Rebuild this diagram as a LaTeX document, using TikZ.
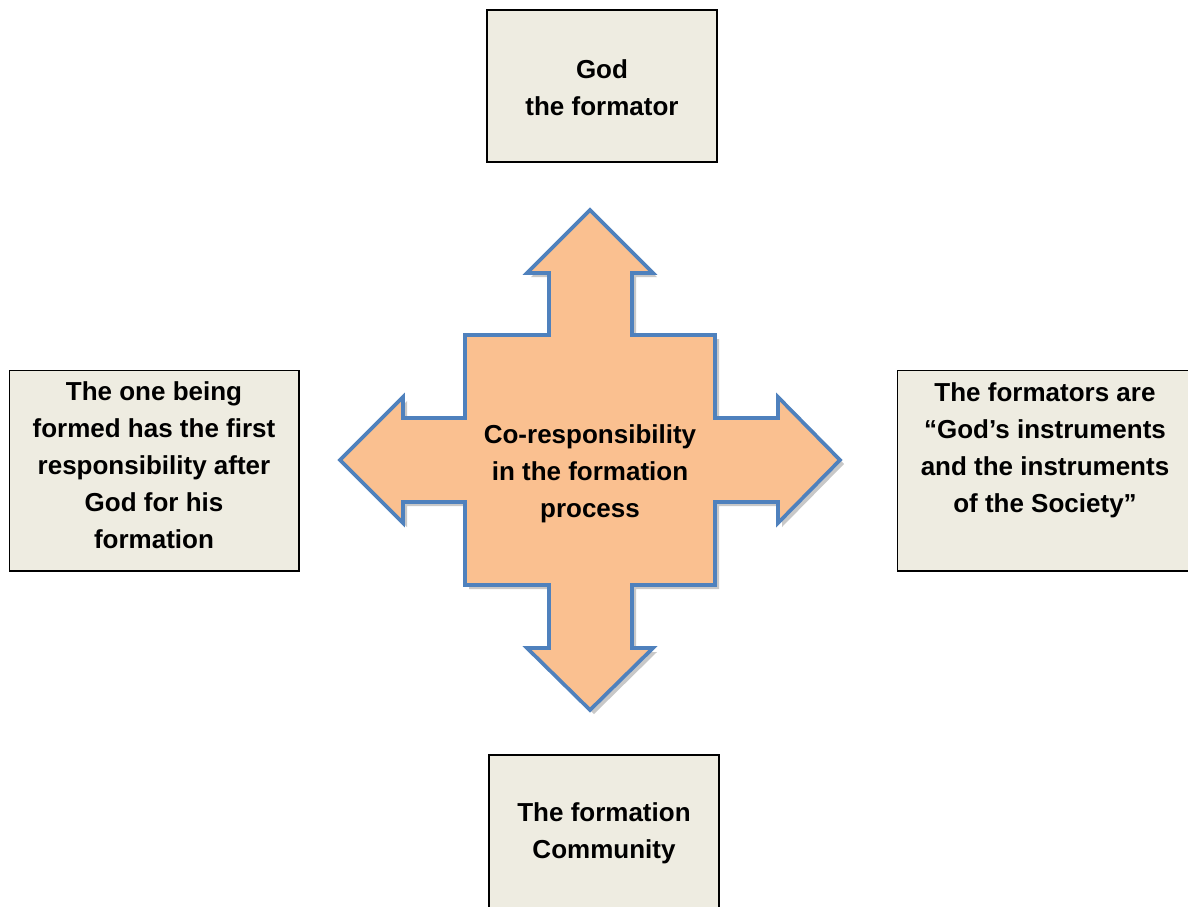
\documentclass[tikz,border=0pt]{standalone}
\usepackage{fontspec}
\setmainfont{Liberation Sans}
\usetikzlibrary{positioning}
\definecolor{boxfill}{HTML}{EEECE1}
\definecolor{crossfill}{HTML}{FAC090}
\definecolor{crossline}{HTML}{4F81BD}
\definecolor{shadowgray}{HTML}{C8C8C8}

\begin{document}
\begin{tikzpicture}
  [x=0.02cm, y=-0.02cm,
   box/.style={rectangle, draw=black, line width=0.6pt, fill=boxfill, inner sep=0pt},
   txt/.style={align=center, font=\bfseries\fontsize{14.8}{21}\selectfont, inner sep=0pt}]
  \useasboundingbox (0,0) rectangle (1188,907);
  \clip (0,0) rectangle (1188,907);
  \def\crosspath{(590,210) -- (527,273) -- (549,273) -- (549,335) -- (465,335) -- (465,418)
    -- (403,418) -- (403,397) -- (340,460) -- (403,523) -- (403,502) -- (465,502)
    -- (465,585) -- (549,585) -- (549,648) -- (527,648) -- (590,710) -- (653,648)
    -- (632,648) -- (632,585) -- (715,585) -- (715,502) -- (778,502) -- (778,523)
    -- (840,460) -- (778,397) -- (778,418) -- (715,418) -- (715,335) -- (632,335)
    -- (632,273) -- (653,273) -- cycle}
  % outer boxes
  \node (god) at (602,86) [box, minimum width=4.6cm, minimum height=3.04cm] {};
  \node (godtext) at (602,87.5) [txt] {God\\the formator};
  \node (community) at (604,834) [box, minimum width=4.6cm, minimum height=3.16cm] {};
  \node (communitytext) at (604,833.5) [txt] {The formation\\Community};
  \node (formed) at (154,470.5) [box, minimum width=5.8cm, minimum height=4.02cm] {};
  \node (formedtext) at (154,465) [txt]
    {The one being\\formed has the first\\responsibility after\\God for his\\formation};
  \node (formators) at (1097,470.5) [box, minimum width=8cm, minimum height=4.02cm] {};
  \node (formatorstext) at (1045,450) [txt]
    {The formators are\\“God’s instruments\\and the instruments\\of the Society”};
  % central cross with shadow
  \begin{scope}[shift={(4,4)}]
    \fill [shadowgray] \crosspath;
  \end{scope}
  \draw [crossline, fill=crossfill, line width=2.1pt, line join=miter] \crosspath;
  \node (core) at (590,473.5) [txt] {Co-responsibility\\in the formation\\process};
\end{tikzpicture}
\end{document}
